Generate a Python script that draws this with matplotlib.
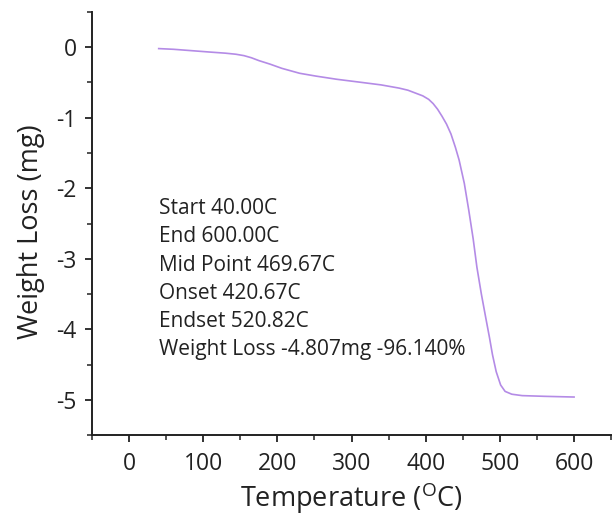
import matplotlib
matplotlib.use("Agg")
import matplotlib.pyplot as plt
from matplotlib.ticker import MultipleLocator

plt.rcParams['font.family'] = ['Open Sans', 'DejaVu Sans']
plt.rcParams['mathtext.fontset'] = 'custom'
plt.rcParams['mathtext.rm'] = 'Open Sans'
plt.rcParams['axes.unicode_minus'] = False

temperature = [40, 60, 85, 110, 130, 144, 155, 165, 175, 190, 206, 230, 252,
               280, 314, 340, 364, 376, 386, 396, 404, 410, 416, 422, 428,
               434, 440, 445, 452, 458, 464, 469, 475, 481, 486, 490, 495,
               501, 507, 516, 530, 560, 600]
weight_loss = [-0.02, -0.03, -0.05, -0.07, -0.085, -0.10, -0.12, -0.15, -0.19,
               -0.24, -0.30, -0.37, -0.41, -0.455, -0.50, -0.535, -0.58,
               -0.61, -0.65, -0.69, -0.74, -0.80, -0.88, -0.98, -1.09, -1.23,
               -1.42, -1.6, -1.93, -2.31, -2.72, -3.12, -3.5, -3.84, -4.12,
               -4.36, -4.6, -4.79, -4.88, -4.92, -4.94, -4.95, -4.96]

annotations = ["Start 40.00C", "End 600.00C", "Mid Point 469.67C",
               "Onset 420.67C", "Endset 520.82C",
               "Weight Loss -4.807mg -96.140%"]

fig = plt.figure(figsize=(6.13, 5.18), dpi=100)
ax = fig.add_axes([0.150, 0.160, 0.847, 0.817])

ax.plot(temperature, weight_loss, color='#b48be6', lw=1.2)

ax.set_xlim(-50, 650)
ax.set_ylim(-5.5, 0.5)
ax.xaxis.set_major_locator(MultipleLocator(100))
ax.xaxis.set_minor_locator(MultipleLocator(50))
ax.yaxis.set_major_locator(MultipleLocator(1))
ax.yaxis.set_minor_locator(MultipleLocator(0.5))

for s in ['top', 'right']:
    ax.spines[s].set_visible(False)
for s in ['left', 'bottom']:
    ax.spines[s].set_linewidth(1.4)
    ax.spines[s].set_color('#222222')

ax.tick_params(axis='both', which='major', direction='out', length=5,
               width=1.3, labelsize=16.5, colors='#222222')
ax.tick_params(axis='both', which='minor', direction='out', length=3.5,
               width=1.1, colors='#222222')
ax.tick_params(axis='x', which='major', pad=7)
ax.tick_params(axis='y', which='major', pad=6)

ax.set_xlabel(r'Temperature ($^{\mathrm{O}}$C)', fontsize=19.5,
              color='#222222', va='center')
ax.xaxis.set_label_coords(0.50, -0.150)
ax.set_ylabel('Weight Loss (mg)', fontsize=19.5, color='#222222', va='center')
ax.yaxis.set_label_coords(-0.118, 0.48)

y0 = -2.29
for i, t in enumerate(annotations):
    ax.text(40, y0 - i * 0.40, t, fontsize=15, va='center', ha='left',
            color='#222222')

fig.savefig('out.png', dpi=100)
